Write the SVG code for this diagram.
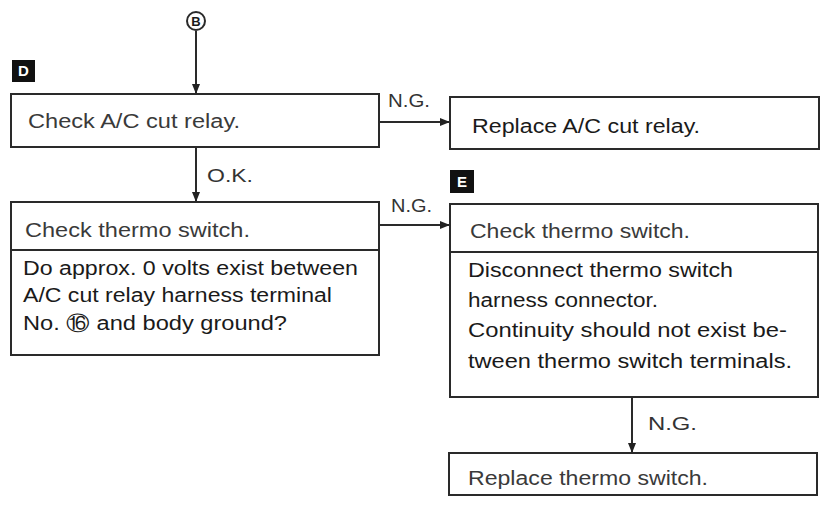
<svg xmlns="http://www.w3.org/2000/svg" width="826" height="506" viewBox="0 0 826 506">
<defs>
<marker id="arr" viewBox="0 0 10 10" refX="10" refY="5" markerWidth="10" markerHeight="10" markerUnits="userSpaceOnUse" orient="auto">
<path d="M0,1 L10,5 L0,9 Z" fill="#222"/>
</marker>
<style>
.box{fill:#fff;stroke:#2a2a2a;stroke-width:2}
.div{stroke:#2a2a2a;stroke-width:2}
.con{stroke:#2a2a2a;stroke-width:2;fill:none;marker-end:url(#arr)}
text{font-family:"Liberation Sans",Arial,sans-serif;font-size:20px;fill:#1a1a1a}
.hd{fill:#3a3a3a}
.lbl{font-size:19px;fill:#333}
.tag{fill:#111}
.tagt{font-size:15px;font-weight:bold;fill:#fff}
</style>
</defs>
<rect width="826" height="506" fill="#fff"/>
<g id="connectors">
<line class="con" x1="196" y1="31" x2="196" y2="94"/>
<line class="con" x1="196" y1="147" x2="196" y2="202"/>
<line class="con" x1="379" y1="122" x2="450" y2="122"/>
<line class="con" x1="379" y1="225" x2="450" y2="225"/>
<line class="con" x1="632" y1="397" x2="632" y2="453"/>
<text class="lbl" x="207" y="182" textLength="46" lengthAdjust="spacingAndGlyphs">O.K.</text>
<text class="lbl" x="388" y="107" textLength="42" lengthAdjust="spacingAndGlyphs">N.G.</text>
<text class="lbl" x="391" y="212" textLength="41" lengthAdjust="spacingAndGlyphs">N.G.</text>
<text class="lbl" x="648" y="430" textLength="49" lengthAdjust="spacingAndGlyphs">N.G.</text>
</g>
<g id="startB">
<circle cx="196" cy="21" r="9" fill="#fff" stroke="#2a2a2a" stroke-width="2"/>
<text x="196" y="26" text-anchor="middle" style="font-size:13px;font-weight:bold">B</text>
</g>
<g id="tagD">
<rect class="tag" x="12" y="60" width="23" height="22"/>
<text class="tagt" x="23.5" y="76" text-anchor="middle">D</text>
</g>
<g id="tagE">
<rect class="tag" x="450" y="170" width="24" height="23"/>
<text class="tagt" x="462" y="187" text-anchor="middle">E</text>
</g>
<g id="checkRelay">
<rect class="box" x="11" y="94" width="368" height="53"/>
<text class="hd" x="28" y="128" textLength="212" lengthAdjust="spacingAndGlyphs">Check A/C cut relay.</text>
</g>
<g id="checkThermo1">
<rect class="box" x="11" y="202" width="368" height="153"/>
<line class="div" x1="11" y1="250" x2="379" y2="250"/>
<text class="hd" x="25" y="237" textLength="225" lengthAdjust="spacingAndGlyphs">Check thermo switch.</text>
<text x="23" y="275" textLength="335" lengthAdjust="spacingAndGlyphs">Do approx. 0 volts exist between</text>
<text x="23" y="302" textLength="309" lengthAdjust="spacingAndGlyphs">A/C cut relay harness terminal</text>
<text x="23" y="330" textLength="264" lengthAdjust="spacingAndGlyphs">No. ⑯ and body ground?</text>
</g>
<g id="replaceRelay">
<rect class="box" x="450" y="97" width="369" height="52"/>
<text x="472" y="133" textLength="228" lengthAdjust="spacingAndGlyphs">Replace A/C cut relay.</text>
</g>
<g id="checkThermo2">
<rect class="box" x="450" y="204" width="368" height="193"/>
<line class="div" x1="450" y1="252" x2="818" y2="252"/>
<text class="hd" x="470" y="238" textLength="220" lengthAdjust="spacingAndGlyphs">Check thermo switch.</text>
<text x="468" y="277" textLength="265" lengthAdjust="spacingAndGlyphs">Disconnect thermo switch</text>
<text x="468" y="307" textLength="190" lengthAdjust="spacingAndGlyphs">harness connector.</text>
<text x="468" y="337" textLength="319" lengthAdjust="spacingAndGlyphs">Continuity should not exist be-</text>
<text x="468" y="368" textLength="324" lengthAdjust="spacingAndGlyphs">tween thermo switch terminals.</text>
</g>
<g id="replaceThermo">
<rect class="box" x="449" y="453" width="368" height="42"/>
<text class="hd" x="468" y="485" textLength="240" lengthAdjust="spacingAndGlyphs">Replace thermo switch.</text>
</g>
</svg>
